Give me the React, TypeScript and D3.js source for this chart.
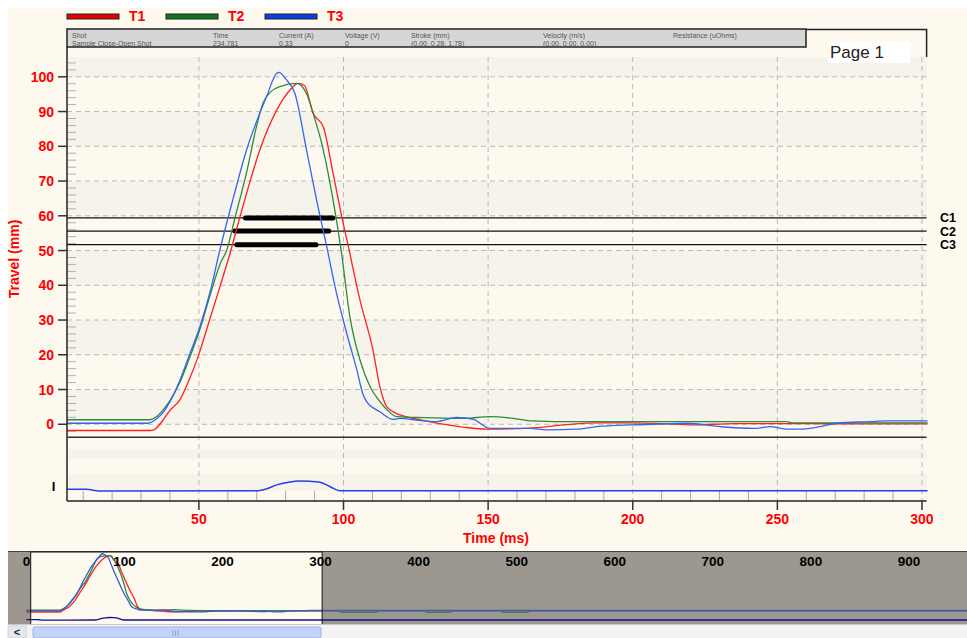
import React from 'react';
import * as d3 from 'd3';

// ---------- DATA ----------
const t1Time = [0, 4.4, 20, 33, 34.5, 36, 37.6, 40, 43.4, 46.5, 49.7, 53.5, 57.2, 60.7, 64.2, 66.5, 71.1, 76.9, 81.5, 84.3, 86.5, 89.5, 93.0, 96.4, 99.9, 101.2, 105.7, 110.2, 112.6, 115, 118, 122, 130, 141.3, 149.6, 164.5, 176, 187.6, 199, 210, 220.8, 235, 260, 280, 301.6, 1000];
const t1Travel = [-1.8, -1.8, -1.8, -1.8, -1.6, -0.5, 1.2, 4.0, 7.0, 12.5, 19.4, 29.5, 39.4, 49, 59.7, 66.5, 79, 90.4, 96.2, 98.1, 97.5, 89.5, 85.6, 72.2, 57.8, 53, 35.7, 21.3, 10.7, 5, 3.2, 2.1, 0.7, -0.8, -1.4, -1.1, -0.2, 0.4, 0.4, 0.2, -0.2, 0.2, 0.2, 0.1, 0.1, 0.1];

const t2Time = [0, 4.4, 20, 33, 35, 37.5, 40, 43.4, 46.5, 50.3, 54, 57.5, 59.6, 62.5, 66.5, 70, 72.2, 75, 78, 83.8, 87.2, 89.5, 93, 96.4, 99.2, 102.2, 105.7, 109.2, 112.6, 115, 118.4, 127.6, 141.4, 150.6, 158.7, 164.5, 181.8, 199, 253.2, 255.5, 301.6, 318, 322, 356, 360, 405, 409, 431, 435, 483, 487, 510, 514, 1000];
const t2Travel = [1.3, 1.3, 1.3, 1.3, 2.0, 4.0, 6.8, 12.0, 18.5, 27.2, 37.5, 46.5, 50, 59.5, 72.5, 86, 92.5, 95.8, 97.2, 98.1, 95.2, 89.5, 79, 64.5, 50, 31, 18.5, 10.8, 6.5, 4.2, 2.2, 1.9, 1.7, 2.2, 1.7, 1.0, 0.75, 0.75, 0.75, 0.4, 0.4, 0.4, -2.5, -2.5, 0.4, 0.4, -2.5, -2.5, 0.4, 0.4, -2.5, -2.5, 0.4, 0.4];

const t3Time = [0, 4.4, 20, 32.4, 34, 36, 38, 40, 43.4, 46.5, 50.3, 54, 57.2, 61.7, 66.5, 73.4, 76.9, 77.7, 80.3, 83.2, 87.2, 90.7, 94.2, 97.6, 101.1, 104.5, 106.8, 108, 112.6, 117.2, 119.5, 125.3, 132.2, 139.1, 144.9, 150.6, 164.5, 170.2, 180.6, 187.5, 199, 207.2, 218.7, 230.3, 241.8, 247.6, 253.2, 258.9, 264.7, 270.5, 282, 287.8, 301.6, 1000];
const t3Travel = [0.3, 0.3, 0.3, 0.3, 0.8, 2.0, 3.8, 6.5, 12.6, 19.5, 28, 38.5, 50, 64.5, 79, 94.3, 101, 101.3, 99.1, 95.2, 79, 64.5, 51.1, 37.7, 26.2, 16, 8.5, 6.5, 3.6, 1.4, 1.7, 1.2, 0.75, 2.0, 1.4, -1.2, -1.2, -1.6, -1.4, -0.7, -0.2, 0, 0.3, -0.7, -1.2, -0.7, -1.4, -1.4, -0.7, 0.3, 0.75, 0.95, 0.95, 0.95];

const currentTime = [0, 4.4, 11.2, 13.5, 15.8, 69.9, 73.5, 76.9, 81, 84.9, 88.5, 91.9, 94.5, 96.5, 98.8, 301.6, 1000];
const currentValue = [0.05, 0.05, 0.05, 0.02, -0.01, 0, 0.07, 0.2, 0.29, 0.33, 0.32, 0.29, 0.18, 0.08, 0, 0, 0];

const seriesNames = ['T1', 'T2', 'T3'];
const seriesColors = ['#ff2020', '#2e8b3c', '#3366f0'];
const legendColors = ['#e80000', '#0b7a22', '#0a3ee8'];

const xTicks = [50, 100, 150, 200, 250, 300];
const yTicks = [0, 10, 20, 30, 40, 50, 60, 70, 80, 90, 100];
const overviewTicks = [0, 100, 200, 300, 400, 500, 600, 700, 800, 900];

const contactNames = ['C1', 'C2', 'C3'];
const contactLevels = [59.4, 55.6, 51.7];
const contactStart = [66.1, 62.4, 63.1];
const contactEnd = [96.3, 94.9, 90.5];

const travelBands = [[0, 10], [20, 30], [40, 50], [60, 70], [80, 90], [100, 105.7]];
const currentBands = [[1.08, 1.42], [0, 0.57]];

const headerLabels = ['Shot', 'Time', 'Current (A)', 'Voltage (V)', 'Stroke (mm)', 'Velocity (m/s)', 'Resistance (uOhms)'];
const headerValues = ['Sample Close-Open Shot', '234.781', '0.33', '0', '(0.00, 0.28, 1.78)', '(0.00, 0.00, 0.00)', ''];

// ---------- COMPONENT ----------
const FONT = "'Liberation Sans', Arial, Helvetica, sans-serif";

export default function App() {
  const W = 967, H = 638;
  const L = 67, R = 926.6, T = 57, MB = 437.3, LB = 501;
  const x = d3.scaleLinear().domain([4.4, 301.6]).range([L, R]);
  const y = d3.scaleLinear().domain([-3.75, 105.7]).range([MB, T]);
  const yI = d3.scaleLinear().domain([-0.35, 1.82]).range([LB, MB]);

  const xo = d3.scaleLinear().domain([0, 1000]).range([26.4, 1007]);
  const yo = d3.scaleLinear().domain([0, 100]).range([611, 554.5]);
  const yoI = d3.scaleLinear().domain([0, 0.33]).range([620, 617.5]);

  const series = [
    { t: t1Time, v: t1Travel },
    { t: t2Time, v: t2Travel },
    { t: t3Time, v: t3Travel },
  ];

  const mainLine = d3.line<number>().curve(d3.curveMonotoneX);
  const pathFor = (t: number[], v: number[], sx: any, sy: any) =>
    mainLine(t.map((tt, i) => [sx(tt), sy(v[i])] as any) as any) || '';

  const minor2: number[] = [];
  for (let v = -2; v <= 104; v += 2) if (v % 10 !== 0) minor2.push(v);
  const minor10: number[] = [];
  for (let v = 10; v <= 300; v += 10) if (v % 50 !== 0) minor10.push(v);

  const headerCols = [72, 213, 279, 345, 411, 543, 673];

  return (
    <svg width={W} height={H} style={{ position: 'fixed', left: 0, top: 0, display: 'block' }} fontFamily={FONT}>
      <defs>
        <clipPath id="mainClip"><rect x={L} y={T} width={R - L + 1} height={MB - T} /></clipPath>
        <clipPath id="lowClip"><rect x={L} y={MB} width={R - L + 1} height={LB - MB} /></clipPath>
        <clipPath id="ovClip"><rect x={8} y={552} width={959} height={72} /></clipPath>
      </defs>
      <rect x={0} y={0} width={W} height={H} fill="#ffffff" />
      <rect x={8} y={8} width={W - 8} height={H - 8} fill="#fdf9ef" />

      {/* legend */}
      {seriesNames.map((n, i) => (
        <g key={n}>
          <rect x={67 + i * 99} y={14} width={52} height={5} fill={legendColors[i]} stroke="#222" strokeWidth={1} />
          <text x={129 + i * 99} y={21} fill="#ff0000" fontWeight="bold" fontSize={14}>{n}</text>
        </g>
      ))}

      {/* bands main */}
      {travelBands.map((b, i) => (
        <rect key={i} x={L} y={y(b[1])} width={R - L} height={y(b[0]) - y(b[1])} fill="#f6f3ea" />
      ))}
      {/* bands lower */}
      {currentBands.map((b, i) => (
        <rect key={i} x={L} y={yI(b[1])} width={R - L} height={yI(b[0]) - yI(b[1])} fill="#f6f3ea" />
      ))}

      {/* grid */}
      {yTicks.map(v => (
        <line key={v} x1={L} x2={R} y1={y(v)} y2={y(v)} stroke="#b9b9b9" strokeDasharray="5,4" strokeWidth={1} />
      ))}
      {xTicks.map(v => (
        <line key={v} x1={x(v)} x2={x(v)} y1={T} y2={LB} stroke="#b9b9b9" strokeDasharray="5,4" strokeWidth={1} />
      ))}

      {/* y minor ticks */}
      {minor2.map(v => (
        <line key={v} x1={L} x2={L + 9} y1={y(v)} y2={y(v)} stroke="#b0b0b0" strokeWidth={1} />
      ))}
      {/* x minor ticks */}
      {minor10.map(v => (
        <line key={v} x1={x(v)} x2={x(v)} y1={LB - 10} y2={LB} stroke="#a8a8a8" strokeWidth={1} />
      ))}

      {/* contact lines */}
      {contactLevels.map((c, i) => (
        <line key={i} x1={L} x2={R} y1={y(c)} y2={y(c)} stroke="#111" strokeWidth={1.2} />
      ))}
      {contactLevels.map((c, i) => (
        <line key={'b' + i} x1={x(contactStart[i])} x2={x(contactEnd[i])} y1={y(c)} y2={y(c)} stroke="#000" strokeWidth={5} strokeLinecap="round" />
      ))}
      {contactNames.map((n, i) => (
        <text key={n} x={940} y={y(contactLevels[i]) + 4.5} fontWeight="bold" fontSize={12.5} fill="#000">{n}</text>
      ))}

      {/* traces */}
      <g clipPath="url(#mainClip)">
        {series.map((s, i) => (
          <path key={i} d={pathFor(s.t, s.v, x, y)} fill="none" stroke={seriesColors[i]} strokeWidth={1.3} />
        ))}
      </g>
      <g clipPath="url(#lowClip)">
        <path d={pathFor(currentTime, currentValue, x, yI)} fill="none" stroke="#2a3cf0" strokeWidth={1.5} />
      </g>

      {/* axes */}
      <line x1={L} x2={L} y1={47} y2={LB} stroke="#222" strokeWidth={1.5} />
      <line x1={L} x2={R} y1={MB} y2={MB} stroke="#333" strokeWidth={1.5} />
      <line x1={L} x2={R} y1={LB} y2={LB} stroke="#222" strokeWidth={1.5} />
      {yTicks.map(v => (
        <g key={v}>
          <line x1={L - 9} x2={L} y1={y(v)} y2={y(v)} stroke="#333" strokeWidth={1.5} />
          <text x={54} y={y(v)} dy="0.36em" textAnchor="end" fill="#ff0000" fontWeight="bold" fontSize={14}>{v}</text>
        </g>
      ))}
      {xTicks.map(v => (
        <g key={v}>
          <line x1={x(v)} x2={x(v)} y1={LB} y2={LB + 9} stroke="#333" strokeWidth={1.5} />
          <text x={x(v)} y={524} textAnchor="middle" fill="#ff0000" fontWeight="bold" fontSize={14}>{v}</text>
        </g>
      ))}
      <text x={496} y={543} textAnchor="middle" fill="#ff0000" fontWeight="bold" fontSize={14}>Time (ms)</text>
      <text transform="translate(19,259) rotate(-90)" textAnchor="middle" fill="#ff0000" fontWeight="bold" fontSize={14}>Travel (mm)</text>
      <text x={53.5} y={491} textAnchor="middle" fill="#000" fontWeight="bold" fontSize={13}>I</text>

      {/* header table */}
      <rect x={67} y={29} width={739} height={18} fill="#d6d6d6" stroke="#222" strokeWidth={1.5} />
      {headerLabels.map((h, i) => (
        <text key={h} x={headerCols[i]} y={37.5} fontSize={7} fill="#555">{h}</text>
      ))}
      {headerValues.map((h, i) => (
        <text key={i} x={headerCols[i]} y={45.5} fontSize={7} fill="#555">{h}</text>
      ))}
      <path d="M806,29.5 L926.6,29.5 L926.6,57" fill="none" stroke="#222" strokeWidth={1.5} />
      <rect x={828} y={42} width={82} height={21} fill="#ffffff" />
      <text x={830} y={58} fontSize={17} fill="#222">Page 1</text>

      {/* overview */}
      <rect x={8} y={551.5} width={959} height={73} fill="#9c9890" />
      <line x1={8} x2={967} y1={551.5} y2={551.5} stroke="#444" strokeWidth={1} />
      <rect x={xo(4.4)} y={552} width={xo(301.6) - xo(4.4)} height={72} fill="#fdf9ef" />
      <g clipPath="url(#ovClip)">
        {series.map((s, i) => (
          <path key={i} d={pathFor(s.t, s.v, xo, yo)} fill="none" stroke={i === 2 ? '#3a5ad8' : seriesColors[i]} strokeWidth={1.3} />
        ))}
        <path d={pathFor(currentTime, currentValue, xo, yoI)} fill="none" stroke="#10108a" strokeWidth={1.3} />
      </g>
      <line x1={xo(4.4)} x2={xo(4.4)} y1={552} y2={624} stroke="#111" strokeWidth={1} />
      <line x1={xo(301.6)} x2={xo(301.6)} y1={552} y2={624} stroke="#111" strokeWidth={1} />
      <line x1={xo(4.4)} x2={xo(301.6)} y1={552} y2={552} stroke="#111" strokeWidth={1} />
      {overviewTicks.map(v => (
        <text key={v} x={xo(v)} y={566} textAnchor="middle" fill="#000" fontWeight="bold" fontSize={13.5}>{v}</text>
      ))}

      {/* scrollbar */}
      <rect x={8} y={625} width={959} height={13} fill="#f3f3f3" />
      <rect x={8} y={626} width={18} height={12} fill="#e6e8f0" stroke="#c8cbd8" strokeWidth={0.8} />
      <text x={17} y={636} textAnchor="middle" fontSize={11} fontWeight="bold" fill="#223">{'<'}</text>
      <rect x={33} y={627} width={288} height={11} rx={2} fill="#c2d2f8" stroke="#9db2e6" strokeWidth={1} />
      {[173, 175.5, 178].map(g => (
        <line key={g} x1={g} x2={g} y1={630} y2={636} stroke="#8fa6dd" strokeWidth={1} />
      ))}
    </svg>
  );
}
